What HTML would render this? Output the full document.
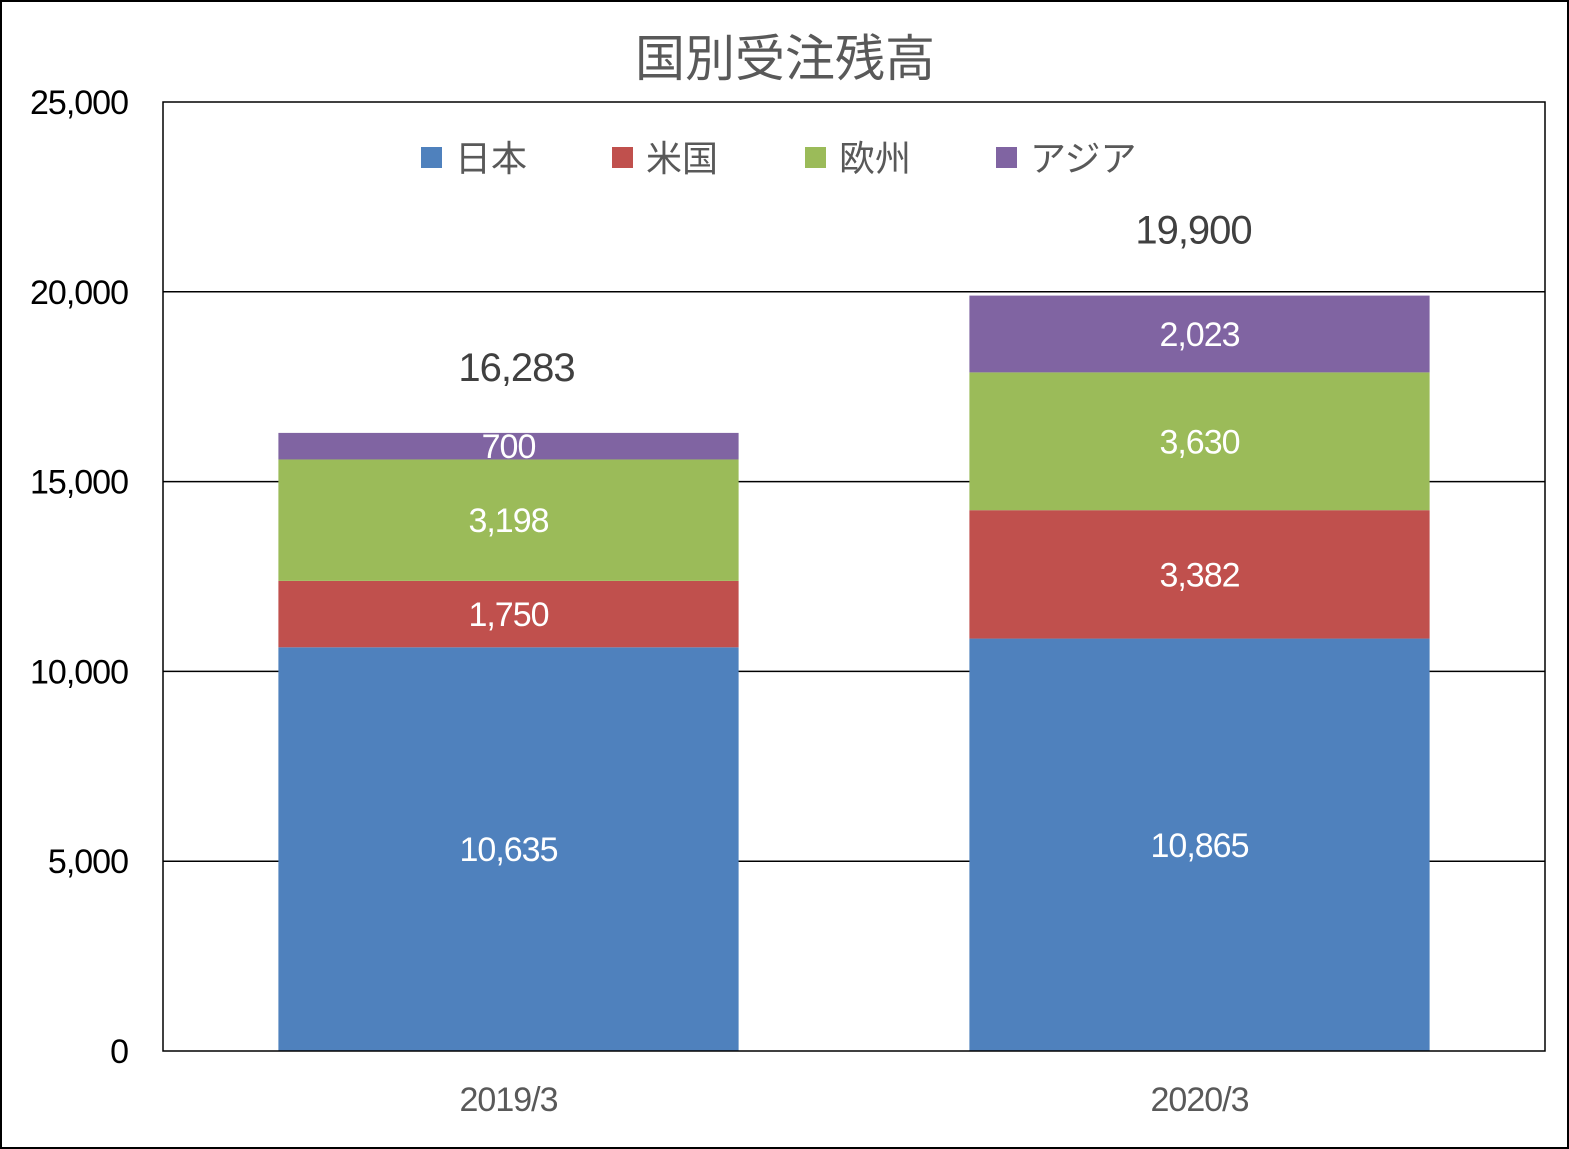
<!DOCTYPE html>
<html><head><meta charset="utf-8"><style>
html,body{margin:0;padding:0;background:#fff}
svg{display:block}
text{font-family:"Liberation Sans","Noto Sans CJK JP",sans-serif}
</style></head><body>
<svg id="chart" width="1569" height="1149" viewBox="0 0 1569 1149" xmlns="http://www.w3.org/2000/svg">
<rect x="1" y="1" width="1567" height="1147" fill="#fff" stroke="#000" stroke-width="2"/>
<text x="785" y="76" font-size="50" fill="#595959" text-anchor="middle">国別受注残高</text>
<g id="grid"></g>
<g id="bars"></g>
<g id="labels"></g>
<g id="legend"></g>
<rect x="163" y="102" width="1382" height="949" fill="none" stroke="#000" stroke-width="1.5"/>
</svg>
<script>
const categories = ["2019/3", "2020/3"];
const seriesNames = ["日本", "米国", "欧州", "アジア"];
const japan = [10635, 10865];
const usa = [1750, 3382];
const europe = [3198, 3630];
const asia = [700, 2023];
const yTicks = [0, 5000, 10000, 15000, 20000, 25000];
const colors = ["#4F81BD", "#C0504D", "#9BBB59", "#8064A2"];

const NS = "http://www.w3.org/2000/svg";
const L = 163, R = 1545, T = 102, B = 1051, yMax = 25000;
const y = v => B - v / yMax * (B - T);
const band = (R - L) / categories.length;
const xc = i => L + band * (i + 0.5);
const bw = band * 0.666;
function mk(tag, attrs, parent, txt) {
  const e = document.createElementNS(NS, tag);
  for (const k in attrs) e.setAttribute(k, attrs[k]);
  if (txt !== undefined) e.textContent = txt;
  parent.appendChild(e);
  return e;
}
const fmt = v => v.toLocaleString("en-US");
const grid = document.getElementById("grid");
yTicks.forEach(t => {
  if (t > 0 && t < yMax) {
    const g = mk("line", {x1: L, x2: R, y1: y(t), y2: y(t), stroke: "#000", "stroke-width": 1.5}, grid);
    
    
  }
  const lb = mk("text", {x: 128, y: y(t) + 12, "font-size": 34, fill: "#000", "text-anchor": "end", "letter-spacing": "-1"}, grid, fmt(t));
  
  
});
const series = [japan, usa, europe, asia];
const barsG = document.getElementById("bars");
const labG = document.getElementById("labels");
categories.forEach((c, i) => {
  let base = 0;
  series.forEach((s, k) => {
    const v = s[i];
    const r = mk("rect", {x: xc(i) - bw / 2, y: y(base + v), width: bw, height: y(base) - y(base + v), fill: colors[k]}, barsG);
    
    
    const t = mk("text", {x: xc(i), y: (y(base) + y(base + v)) / 2 + 12, "font-size": 34, fill: "#fff", "text-anchor": "middle", "letter-spacing": "-1"}, labG, fmt(v));
    
    
    base += v;
  });
  const tot = mk("text", {x: xc(i) + 8 - 14 * i, y: y(base) - 52, "font-size": 40, fill: "#404040", "text-anchor": "middle", "letter-spacing": "-1"}, labG, fmt(base));
  
  
  const xl = mk("text", {x: xc(i), y: 1111, "font-size": 34, fill: "#595959", "text-anchor": "middle", "letter-spacing": "-1"}, labG, c);
  
  
});
const legG = document.getElementById("legend");
const legX = [421, 612, 805, 996];
seriesNames.forEach((n, k) => {
  const sq = mk("rect", {x: legX[k], y: 147, width: 21, height: 21, fill: colors[k]}, legG);
  
  
  const t = mk("text", {x: legX[k] + 34, y: 171, "font-size": 36, fill: "#595959"}, legG, n);
  
  
});
</script>
</body></html>
